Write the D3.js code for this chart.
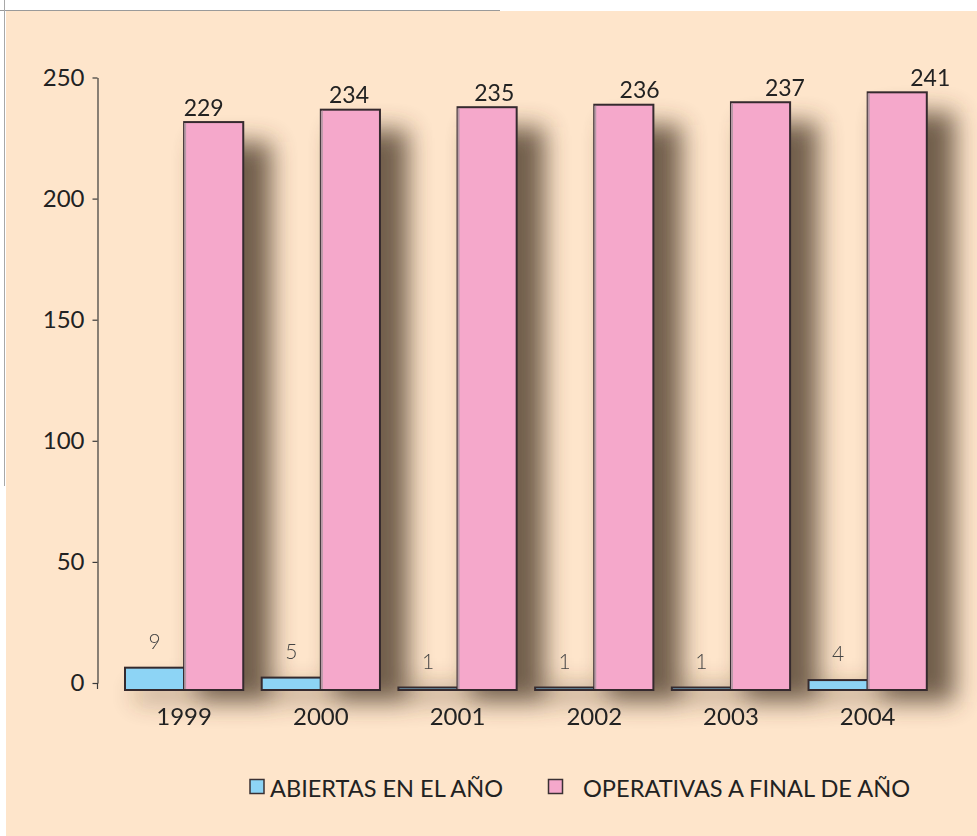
<!doctype html>
<html>
<head>
<meta charset="utf-8">
<script src="https://cdn.jsdelivr.net/npm/d3@7"></script>
<style>
  html, body { margin: 0; padding: 0; background: #fff; }
  svg { display: block; font-family: Lato, "Open Sans", sans-serif; }
</style>
</head>
<body>
<svg id="chart" width="977" height="836"></svg>
<script>
  // data
  var years = ['1999', '2000', '2001', '2002', '2003', '2004'];
  var abiertas = [9, 5, 1, 1, 1, 4];
  var operativas = [229, 234, 235, 236, 237, 241];
  var yTicks = [0, 50, 100, 150, 200, 250];
  var seriesNames = ['ABIERTAS EN EL AÑO', 'OPERATIVAS A FINAL DE AÑO'];

  var colors = { abiertas: '#8dd4f5', operativas: '#f5a8cb', cream: '#fee5cb', edge: '#352a2e' };

  var svg = d3.select('#chart');
  var defs = svg.append('defs');
  defs.append('filter')
    .attr('id', 'shadow')
    .attr('x', '-80%').attr('y', '-20%').attr('width', '260%').attr('height', '150%')
    .append('feGaussianBlur').attr('stdDeviation', 12);

  // page frame
  svg.append('rect').attr('x', 6).attr('y', 11).attr('width', 971).attr('height', 825).attr('fill', colors.cream);
  svg.append('line').attr('x1', 0).attr('x2', 500).attr('y1', 10.5).attr('y2', 10.5).attr('stroke', '#9a9a9a');
  svg.append('line').attr('x1', 4.5).attr('x2', 4.5).attr('y1', 0).attr('y2', 486).attr('stroke', '#a8a8a8');

  // scales
  var x0 = d3.scaleBand().domain(years).range([125, 926.8]).paddingInner(0.135);
  var x1 = d3.scaleBand().domain(['a', 'o']).range([0, x0.bandwidth()]);
  var yAxisScale = d3.scaleLinear().domain([0, 250]).range([683, 77.5]);
  // bars sit a little lower and taller than the axis (3d projection of the original)
  var yBar = d3.scaleLinear().domain([0, 250]).range([690, 70]);

  // axis
  var axis = d3.axisLeft(yAxisScale).tickValues(yTicks).tickSize(5).tickSizeOuter(0).tickPadding(8);
  var gAxis = svg.append('g').attr('transform', 'translate(97.5,0)').call(axis);
  gAxis.select('.domain').attr('stroke', '#3a3a3a').attr('stroke-width', 1.2);
  gAxis.selectAll('.tick line').attr('stroke', '#3a3a3a').attr('stroke-width', 1.2);
  gAxis.selectAll('.tick text')
    .attr('fill', '#222').style('font-size', '24px').style('font-family', 'Lato, sans-serif');
  gAxis.append('line').attr('x1', 0).attr('x2', 0).attr('y1', yAxisScale(0)).attr('y2', 689)
    .attr('stroke', '#3a3a3a').attr('stroke-width', 1.2);

  var rows = years.map(function (yr, i) {
    return { year: yr, i: i, a: abiertas[i], o: operativas[i] };
  });

  // soft shadows behind the bars
  var shadows = svg.append('g').attr('filter', 'url(#shadow)').attr('opacity', 0.78);
  shadows.selectAll('rect.sh-o').data(rows).enter().append('rect')
    .attr('x', function (d) { return x0(d.year) + x1('o') + 14; })
    .attr('y', function (d) { return yBar(d.o) + 20; })
    .attr('width', x1.bandwidth() + 14)
    .attr('height', function (d) { return yBar(0) - yBar(d.o) - 8; })
    .attr('fill', '#4a3726');
  shadows.selectAll('rect.sh-a').data(rows).enter().append('rect')
    .attr('x', function (d) { return x0(d.year) + 10; })
    .attr('y', yBar(0) - 4)
    .attr('width', x0.bandwidth())
    .attr('height', 16)
    .attr('fill', '#4a3726')
    .attr('opacity', 0.5);

  var groups = svg.selectAll('g.year').data(rows).enter().append('g')
    .attr('class', 'year')
    .attr('transform', function (d) { return 'translate(' + x0(d.year) + ',0)'; });

  groups.append('rect')
    .attr('x', x1('a'))
    .attr('y', function (d) { return yBar(d.a); })
    .attr('width', x1.bandwidth())
    .attr('height', function (d) { return yBar(0) - yBar(d.a); })
    .attr('fill', colors.abiertas)
    .attr('stroke', colors.edge).attr('stroke-width', 2);

  groups.append('rect')
    .attr('x', x1('o'))
    .attr('y', function (d) { return yBar(d.o); })
    .attr('width', x1.bandwidth())
    .attr('height', function (d) { return yBar(0) - yBar(d.o); })
    .attr('fill', colors.operativas)
    .attr('stroke', colors.edge).attr('stroke-width', 2);

  // light left edge on the pink bars
  groups.append('line')
    .attr('x1', x1('o') + 1).attr('x2', x1('o') + 1)
    .attr('y1', function (d) { return yBar(d.o) + 1; })
    .attr('y2', yBar(0) - 1)
    .attr('stroke', '#b79aa6').attr('stroke-width', 2);

  // value labels (pink ones drift right with the perspective)
  groups.append('text')
    .attr('x', function (d) { return x1('o') + x1.bandwidth() / 2 - 10 + 8.6 * d.i; })
    .attr('y', function (d) { return yBar(d.o) - 6.5; })
    .attr('text-anchor', 'middle')
    .attr('fill', '#222').style('font-size', '23px')
    .text(function (d) { return d.o; });

  groups.append('text')
    .attr('x', x1('a') + x1.bandwidth() / 2)
    .attr('y', function (d) { return yBar(d.a) - 19; })
    .attr('text-anchor', 'middle')
    .attr('fill', '#444').style('font-size', '21px').style('font-weight', 300)
    .text(function (d) { return d.a; });

  groups.append('text')
    .attr('x', x0.bandwidth() / 2)
    .attr('y', 725)
    .attr('text-anchor', 'middle')
    .attr('fill', '#222').style('font-size', '24px')
    .text(function (d) { return d.year; });

  // legend
  var legendItems = [
    { name: seriesNames[0], color: colors.abiertas, box: 250, text: 270, len: 233 },
    { name: seriesNames[1], color: colors.operativas, box: 548.5, text: 583, len: 327 }
  ];
  var legend = svg.append('g');
  legend.selectAll('rect').data(legendItems).enter().append('rect')
    .attr('x', function (d) { return d.box; })
    .attr('y', 779.5)
    .attr('width', 14).attr('height', 14)
    .attr('fill', function (d) { return d.color; })
    .attr('stroke', '#3a3033').attr('stroke-width', 1.5);
  legend.selectAll('text').data(legendItems).enter().append('text')
    .attr('x', function (d) { return d.text; })
    .attr('y', 797)
    .attr('textLength', function (d) { return d.len; })
    .attr('lengthAdjust', 'spacingAndGlyphs')
    .attr('fill', '#222').style('font-size', '24px')
    .text(function (d) { return d.name; });
</script>
</body>
</html>
